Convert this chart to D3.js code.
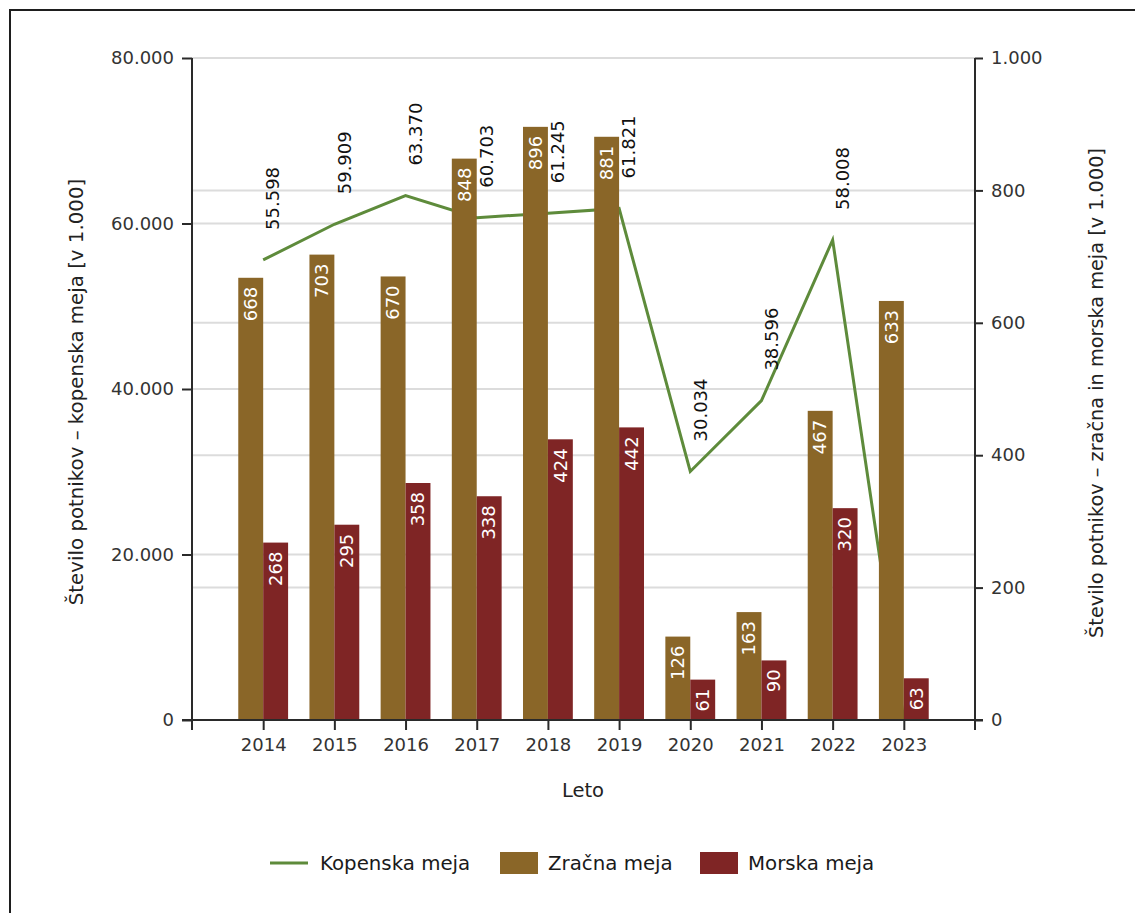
<!DOCTYPE html>
<html><head><meta charset="utf-8">
<script src="https://cdn.jsdelivr.net/npm/d3@7"></script>
<style>
html,body{margin:0;padding:0;background:#fff;}
svg{display:block;font-family:"DejaVu Sans",Verdana,sans-serif;}
</style></head>
<body>
<svg id="chart" width="1135" height="913"></svg>
<script>
const years = [2014,2015,2016,2017,2018,2019,2020,2021,2022,2023];
const kopenska = [55598,59909,63370,60703,61245,61821,30034,38596,58008,0];
const zracna = [668,703,670,848,896,881,126,163,467,633];
const morska = [268,295,358,338,424,442,61,90,320,63];
const leftTicks = [0,20000,40000,60000,80000];
const rightTicks = [0,200,400,600,800,1000];
const seriesNames = ["Kopenska meja","Zračna meja","Morska meja"];
const colors = {line:"#5e8b3b", zracna:"#8a6628", morska:"#7f2525"};

const loc = d3.formatLocale({decimal:",", thousands:".", grouping:[3], currency:["",""]});
const fmt = loc.format(",d");

const svg = d3.select("#chart");
const L = 192, R = 975, T = 58, B = 720;

svg.append("rect").attr("x",10).attr("y",10).attr("width",1140).attr("height",920)
  .attr("fill","none").attr("stroke","#1e1e1e").attr("stroke-width",2);

const x = d3.scaleLinear().domain([2013,2024]).range([L,R]);
const yL = d3.scaleLinear().domain([0,80000]).range([B,T]);
const yR = d3.scaleLinear().domain([0,1000]).range([B,T]);
const step = x(2015)-x(2014);
const bw = step*0.35;

// gridlines
const g = svg.append("g");
leftTicks.forEach(t=>g.append("line").attr("x1",L).attr("x2",R).attr("y1",yL(t)).attr("y2",yL(t))
  .attr("stroke","#dcdcdc").attr("stroke-width",2));
rightTicks.forEach(t=>g.append("line").attr("x1",L).attr("x2",R).attr("y1",yR(t)).attr("y2",yR(t))
  .attr("stroke","#dcdcdc").attr("stroke-width",2));

// line
const line = d3.line().x((d,i)=>x(years[i])).y(d=>yL(d));
svg.append("path").datum(kopenska).attr("d",line).attr("fill","none")
  .attr("stroke",colors.line).attr("stroke-width",3).attr("stroke-linejoin","miter");

// line labels
svg.append("g").selectAll("text").data(kopenska.map((v,i)=>({v,i})).filter(d=>d.v>0)).join("text")
  .attr("transform",d=>`translate(${x(years[d.i])+10},${yL(d.v)-30}) rotate(-90)`)
  .attr("text-anchor","start").attr("dy","0.35em").attr("font-size",18).attr("fill","#111")
  .text(d=>fmt(d.v));

// bars
const bars = svg.append("g");
bars.selectAll("rect.z").data(zracna).join("rect").attr("class","z")
  .attr("x",(d,i)=>x(years[i])-bw).attr("width",bw)
  .attr("y",d=>yR(d)).attr("height",d=>B-yR(d)).attr("fill",colors.zracna);
bars.selectAll("rect.m").data(morska).join("rect").attr("class","m")
  .attr("x",(d,i)=>x(years[i])).attr("width",bw)
  .attr("y",d=>yR(d)).attr("height",d=>B-yR(d)).attr("fill",colors.morska);

// bar labels
bars.selectAll("text.z").data(zracna).join("text").attr("class","z")
  .attr("transform",(d,i)=>`translate(${x(years[i])-bw/2},${yR(d)+9}) rotate(-90)`)
  .attr("text-anchor","end").attr("dy","0.35em").attr("font-size",18).attr("fill","#fff").text(d=>d);
bars.selectAll("text.m").data(morska).join("text").attr("class","m")
  .attr("transform",(d,i)=>`translate(${x(years[i])+bw/2},${yR(d)+9}) rotate(-90)`)
  .attr("text-anchor","end").attr("dy","0.35em").attr("font-size",18).attr("fill","#fff").text(d=>d);

// axes
const axisColor = "#2a2a2a";
const styleAxis = sel => {
  sel.select(".domain").remove();
  sel.selectAll(".tick line").attr("stroke",axisColor).attr("stroke-width",2);
  sel.selectAll(".tick text").attr("fill","#333").attr("font-size",18)
     .attr("font-family","DejaVu Sans, Verdana, sans-serif");
};
svg.append("g").attr("transform",`translate(${L},0)`)
  .call(d3.axisLeft(yL).tickValues(leftTicks).tickFormat(fmt).tickSize(10).tickPadding(8)).call(styleAxis);
svg.append("g").attr("transform",`translate(${R},0)`)
  .call(d3.axisRight(yR).tickValues(rightTicks).tickFormat(fmt).tickSize(8).tickPadding(8)).call(styleAxis);
svg.append("g").attr("transform",`translate(0,${B})`)
  .call(d3.axisBottom(x).tickValues(years).tickFormat(d3.format("d")).tickSize(10).tickPadding(8)).call(styleAxis);

svg.append("line").attr("x1",L).attr("x2",L).attr("y1",T).attr("y2",B+10).attr("stroke",axisColor).attr("stroke-width",2);
svg.append("line").attr("x1",R).attr("x2",R).attr("y1",T).attr("y2",B+10).attr("stroke",axisColor).attr("stroke-width",2);
svg.append("line").attr("x1",L-10).attr("x2",R+8).attr("y1",B).attr("y2",B).attr("stroke",axisColor).attr("stroke-width",2);

// titles
svg.append("text").attr("x",583).attr("y",797).attr("text-anchor","middle").attr("font-size",19.5).attr("fill","#222").text("Leto");
svg.append("text").attr("transform",`translate(76,${(T+B)/2+3}) rotate(-90)`).attr("text-anchor","middle")
  .attr("dy","0.35em").attr("font-size",19.8).attr("fill","#222").text("Število potnikov – kopenska meja [v 1.000]");
svg.append("text").attr("transform",`translate(1096,${(T+B)/2+4}) rotate(-90)`).attr("text-anchor","middle")
  .attr("dy","0.35em").attr("font-size",19.3).attr("fill","#222").text("Število potnikov – zračna in morska meja [v 1.000]");

// legend
const lg = svg.append("g").attr("font-size",19.8).attr("fill","#1a1a1a");
lg.append("line").attr("x1",270).attr("x2",308).attr("y1",863).attr("y2",863).attr("stroke",colors.line).attr("stroke-width",3);
lg.append("text").attr("x",320).attr("y",863).attr("dy","0.35em").text(seriesNames[0]);
lg.append("rect").attr("x",500).attr("y",852).attr("width",38).attr("height",22).attr("fill",colors.zracna);
lg.append("text").attr("x",548).attr("y",863).attr("dy","0.35em").text(seriesNames[1]);
lg.append("rect").attr("x",700).attr("y",852).attr("width",38).attr("height",22).attr("fill",colors.morska);
lg.append("text").attr("x",748).attr("y",863).attr("dy","0.35em").text(seriesNames[2]);
</script>
</body></html>
